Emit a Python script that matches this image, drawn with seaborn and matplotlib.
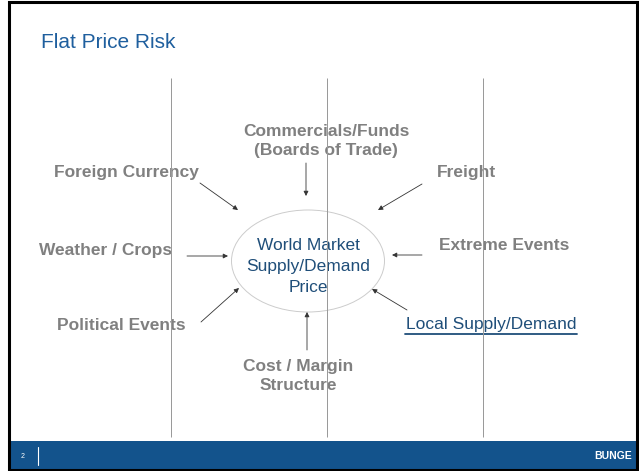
import matplotlib
matplotlib.use("Agg")
import matplotlib.pyplot as plt
from matplotlib.patches import Rectangle, Ellipse
import seaborn as sns

# slide content
title = "Flat Price Risk"
center_lines = ["World Market", "Supply/Demand", "Price"]

factor_labels = ["Commercials/Funds\n(Boards of Trade)", "Foreign Currency", "Freight",
                 "Weather / Crops", "Extreme Events", "Political Events",
                 "Cost / Margin\nStructure"]
factor_x = [326, 126, 467, 106, 504, 121, 298]
factor_y = [141, 172, 172, 250, 246, 325, 376]

local_label = "Local Supply/Demand"

# arrows pointing at the ellipse: start -> end (pixels)
arrow_start = [(306, 163), (200, 183), (187, 256), (201, 322),
               (422, 184), (422, 255), (407, 310), (307, 350)]
arrow_end = [(306, 196), (238, 210), (228, 256), (239, 288),
             (378, 210), (392, 255), (372, 289), (307, 312)]

divider_x = [170.5, 326.5, 482.5]

sns.set_theme(style="white")
plt.rcParams['font.family'] = ['Liberation Sans', 'DejaVu Sans']

fig = plt.figure(figsize=(6.39, 4.71), dpi=100)
ax = fig.add_axes([0, 0, 1, 1])
ax.set_xlim(0, 639)
ax.set_ylim(471, 0)
ax.axis('off')

blue_bar = '#13538C'
dark_blue = '#1F4E79'
gray = '#808080'

# vertical divider lines (drawn over the labels, like on the slide)
ax.vlines(divider_x, 78, 437, color='#9a9a9a', lw=0.72, zorder=6)

# footer bar and frame
ax.add_patch(Rectangle((9, 441), 628, 29, facecolor=blue_bar, edgecolor='none', zorder=3))
ax.add_patch(Rectangle((9, 1.5), 628, 468.5, facecolor='none', edgecolor='black', lw=2.2, zorder=4))
ax.plot([38, 38], [447, 465], color='white', lw=0.8, zorder=5)
ax.text(23, 456.5, "2", color='white', fontsize=5, ha='center', va='center', zorder=5)
ax.text(613.5, 456, "BUNGE", color='white', fontsize=7.5, fontweight='bold',
        ha='center', va='center', zorder=5)

# title
ax.text(41, 43, title, color='#1F5F9E', fontsize=15, ha='left', va='center')

# ellipse in the middle
ax.add_patch(Ellipse((308, 261), 153, 102, facecolor='none', edgecolor='#cccccc', lw=0.7))
for i, line in enumerate(center_lines):
    ax.text(308, 246 + 21 * i, line, color=dark_blue, fontsize=12.5, ha='center', va='center')

for lab, x, y in zip(factor_labels, factor_x, factor_y):
    ax.text(x, y, lab, color=gray, fontsize=12.5, fontweight='bold', ha='center', va='center',
            linespacing=1.3)

ax.text(491, 324, local_label, color=dark_blue, fontsize=12.5, ha='center', va='center')
ax.plot([405, 577], [333.5, 333.5], color=dark_blue, lw=1.3)

for s, e in zip(arrow_start, arrow_end):
    ax.annotate("", xy=e, xytext=s,
                arrowprops=dict(arrowstyle='-|>', color='#333333', lw=0.6,
                                mutation_scale=7, shrinkA=0, shrinkB=0))

fig.savefig("out.png", dpi=100)
